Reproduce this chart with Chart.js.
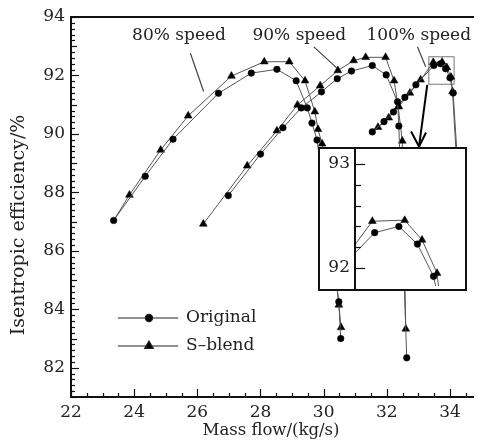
<!DOCTYPE html>
<html>
<head>
<meta charset="utf-8">
<script src="https://cdn.jsdelivr.net/npm/chart.js@4.4.1/dist/chart.umd.min.js"></script>
<style>
body { margin: 0; background: #fff; }
#wrap { position: relative; width: 479px; height: 441px; }
#inset { position: absolute; left: 318px; top: 147px; background: #fff; }
</style>
</head>
<body>
<div id="wrap">
  <canvas id="main" width="479" height="441"></canvas>
  <canvas id="inset" width="149" height="144"></canvas>
</div>
<script>
// mass flow (kg/s) and isentropic efficiency (%)
const flow80Orig = [23.35, 24.35, 25.23, 26.67, 27.71, 28.52, 29.13, 29.48, 29.63, 29.79, 30.48, 30.54]
const eff80Orig  = [87.04, 88.55, 89.82, 91.39, 92.08, 92.21, 91.82, 90.89, 90.37, 89.79, 84.26, 83.00]
const flow80Blend = [23.35, 23.85, 24.84, 25.71, 27.08, 28.12, 28.91, 29.41, 29.72, 29.82, 29.95, 30.48, 30.55]
const eff80Blend  = [87.04, 87.91, 89.45, 90.62, 91.98, 92.47, 92.47, 91.82, 90.76, 90.16, 89.66, 84.15, 83.38]

const flow90Orig = [26.98, 28.00, 28.71, 29.29, 29.93, 30.43, 30.88, 31.54, 31.98, 32.34, 32.38, 32.63]
const eff90Orig  = [87.89, 89.31, 90.21, 90.89, 91.44, 91.89, 92.15, 92.34, 92.02, 91.10, 90.27, 82.34]
const flow90Blend = [26.19, 27.58, 28.52, 29.17, 29.89, 30.45, 30.95, 31.33, 31.96, 32.23, 32.36, 32.49, 32.60]
const eff90Blend  = [86.92, 88.91, 90.11, 90.99, 91.65, 92.17, 92.51, 92.62, 92.62, 91.82, 90.93, 89.76, 83.33]

const flow100Orig = [31.54, 31.91, 32.21, 32.57, 32.92, 33.49, 33.70, 33.86, 34.00, 34.10, 34.26, 34.35]
const eff100Orig  = [90.07, 90.42, 90.75, 91.25, 91.68, 92.34, 92.40, 92.23, 91.92, 91.40, 88.67, 85.97]
const flow100Blend = [31.72, 32.06, 32.38, 32.73, 33.07, 33.47, 33.75, 33.90, 34.03, 34.08, 34.23, 34.32]
const eff100Blend  = [90.23, 90.55, 90.94, 91.40, 91.85, 92.45, 92.46, 92.27, 91.95, 91.45, 88.67, 86.03]

const xTicks = [22, 24, 26, 28, 30, 32, 34]
const yTicks = [82, 84, 86, 88, 90, 92, 94]
const insetTicks = [92, 93]
const speedLabels = ['80% speed', '90% speed', '100% speed']
const seriesNames = ['Original', 'S\u2013blend']

const FONT = "'DejaVu Serif', serif"
const LINE = '#555'

function pts(xs, ys) {
    return xs.map((x, i) => ({ x: x, y: ys[i] }))
}

function series(xs, ys, style, first) {
    const r = style === 'circle' ? 3.3 : 4.5
    return {
        data: pts(xs, ys),
        showLine: true,
        borderColor: LINE,
        borderWidth: 1,
        pointStyle: style,
        pointRadius: xs.map((x, i) => (i === 0 && first === false) ? 0 : r),
        pointBackgroundColor: '#000',
        pointBorderColor: '#000',
        pointBorderWidth: 0.5
    }
}

// no extra room for the end labels, the frame is fixed
function noPad(s) {
    s.paddingTop = 0; s.paddingBottom = 0; s.paddingLeft = 0; s.paddingRight = 0
}

const mainSets = [
    series(flow80Orig, eff80Orig, 'circle'),
    series(flow80Blend, eff80Blend, 'triangle', false),
    series(flow90Orig, eff90Orig, 'circle'),
    series(flow90Blend, eff90Blend, 'triangle'),
    series(flow100Orig, eff100Orig, 'circle'),
    series(flow100Blend, eff100Blend, 'triangle')
]

const mainFrame = {
    id: 'mainFrame',
    beforeDatasetsDraw(chart) {
        const ctx = chart.ctx
        const xs = chart.scales.x, ys = chart.scales.y
        const px = v => xs.getPixelForValue(v), py = v => ys.getPixelForValue(v)
        ctx.save()
        ctx.strokeStyle = '#444'
        ctx.lineWidth = 1.2
        // leader lines for speed labels
        const leaders = [[25.78, 92.76, 26.20, 91.45], [29.69, 92.98, 30.42, 92.25], [32.97, 92.98, 33.23, 92.30]]
        leaders.forEach(l => {
            ctx.beginPath(); ctx.moveTo(px(l[0]), py(l[1])); ctx.lineTo(px(l[2]), py(l[3])); ctx.stroke()
        })
        // zoom window
        ctx.strokeStyle = '#777'
        ctx.lineWidth = 1
        ctx.strokeRect(px(33.33), py(92.64), px(34.13) - px(33.33), py(91.70) - py(92.64))
        ctx.restore()
    },
    afterDraw(chart) {
        const ctx = chart.ctx
        const a = chart.chartArea
        const xs = chart.scales.x, ys = chart.scales.y
        const px = v => xs.getPixelForValue(v), py = v => ys.getPixelForValue(v)
        ctx.save()
        ctx.strokeStyle = '#111'
        ctx.lineWidth = 2
        ctx.beginPath()
        ctx.moveTo(a.right, a.top); ctx.lineTo(a.left, a.top); ctx.lineTo(a.left, a.bottom); ctx.lineTo(a.right, a.bottom)
        ctx.stroke()
        ctx.lineWidth = 1.2
        for (let i = 0; i <= 65; i++) {
            const v = 81 + i * 0.2
            const len = i % 10 === 5 ? 8 : (i % 5 === 0 ? 6 : 4)
            ctx.beginPath(); ctx.moveTo(a.left, Math.round(py(v)) + 0.5); ctx.lineTo(a.left + len, Math.round(py(v)) + 0.5); ctx.stroke()
        }
        for (let i = 0; i <= 25; i++) {
            const v = 22 + i * 0.5
            const len = i % 4 === 0 ? 8 : 4
            ctx.beginPath(); ctx.moveTo(Math.round(px(v)) + 0.5, a.bottom); ctx.lineTo(Math.round(px(v)) + 0.5, a.bottom - len); ctx.stroke()
        }
        // arrow to inset
        ctx.lineWidth = 2
        ctx.strokeStyle = '#000'
        const ax = px(33.02), ay = py(89.57)
        ctx.beginPath(); ctx.moveTo(px(33.28), py(91.68)); ctx.lineTo(ax, ay); ctx.stroke()
        ctx.beginPath(); ctx.moveTo(ax - 8, ay - 15); ctx.lineTo(ax, ay); ctx.lineTo(ax + 7, ay - 14); ctx.stroke()

        ctx.fillStyle = '#222'
        ctx.font = '17px ' + FONT
        ctx.textBaseline = 'middle'
        ctx.textAlign = 'center'
        const labelPos = [[25.42, 93.38], [29.23, 93.38], [33.01, 93.38]]
        speedLabels.forEach((t, i) => ctx.fillText(t, px(labelPos[i][0]), py(labelPos[i][1])))

        // axis titles
        ctx.font = '16.5px ' + FONT
        ctx.fillText('Mass flow/(kg/s)', 271, 431)
        ctx.save()
        ctx.font = '19px ' + FONT
        ctx.translate(19, 225)
        ctx.rotate(-Math.PI / 2)
        ctx.fillText('Isentropic efficiency/%', 0, 0)
        ctx.restore()

        // legend
        ctx.font = '17px ' + FONT
        const rows = [[318, 'circle', 3.6], [346, 'triangle', 5]]
        rows.forEach((r, i) => {
            ctx.strokeStyle = '#222'
            ctx.lineWidth = 1.2
            ctx.beginPath(); ctx.moveTo(118, r[0]); ctx.lineTo(178, r[0]); ctx.stroke()
            ctx.fillStyle = '#000'
            Chart.helpers.drawPoint(ctx, { pointStyle: r[1], radius: r[2], rotation: 0, borderWidth: 0.5 }, 149, r[0])
            ctx.fillStyle = '#222'
            ctx.textAlign = 'left'
            ctx.fillText(seriesNames[i], 186, r[0])
        })
        ctx.restore()
    }
}

new Chart(document.getElementById('main'), {
    type: 'scatter',
    data: { datasets: mainSets },
    options: {
        responsive: false,
        animation: false,
        devicePixelRatio: 1,
        layout: { padding: { top: 17, right: 0, left: 0, bottom: 0 } },
        plugins: { legend: { display: false }, tooltip: { enabled: false } },
        scales: {
            x: {
                type: 'linear', min: 22, max: 34.76,
                grid: { display: false, drawTicks: false },
                border: { display: false },
                afterBuildTicks: s => { s.ticks = xTicks.map(v => ({ value: v })) },
                afterFit: s => { s.height = 44; noPad(s) },
                ticks: { padding: 5, color: '#222', font: { family: FONT, size: 17 }, maxRotation: 0, autoSkip: false }
            },
            y: {
                type: 'linear', min: 81, max: 94,
                grid: { display: false, drawTicks: false },
                border: { display: false },
                afterBuildTicks: s => { s.ticks = yTicks.map(v => ({ value: v })) },
                afterFit: s => { s.width = 71; noPad(s) },
                ticks: { padding: 6, color: '#222', font: { family: FONT, size: 17 } }
            }
        }
    },
    plugins: [mainFrame]
})

const insetFrame = {
    id: 'insetFrame',
    afterDraw(chart) {
        const ctx = chart.ctx
        const a = chart.chartArea
        const ys = chart.scales.y
        ctx.save()
        ctx.strokeStyle = '#111'
        ctx.lineWidth = 2
        ctx.strokeRect(1, 1, chart.width - 2, chart.height - 2)
        ctx.beginPath(); ctx.moveTo(a.left, 0); ctx.lineTo(a.left, chart.height); ctx.stroke()
        ctx.lineWidth = 1.2
        for (let i = 0; i <= 5; i++) {
            const v = 92 + i * 0.2
            const y = Math.round(ys.getPixelForValue(v)) + 0.5
            const len = (i === 0 || i === 5) ? 10 : 6
            ctx.beginPath(); ctx.moveTo(a.left, y); ctx.lineTo(a.left + len, y); ctx.stroke()
        }
        ctx.restore()
    }
}

new Chart(document.getElementById('inset'), {
    type: 'scatter',
    data: {
        datasets: [
            series(flow100Orig, eff100Orig, 'circle'),
            series(flow100Blend, eff100Blend, 'triangle')
        ]
    },
    options: {
        responsive: false,
        animation: false,
        devicePixelRatio: 1,
        layout: { padding: 0 },
        plugins: { legend: { display: false }, tooltip: { enabled: false } },
        scales: {
            x: { type: 'linear', min: 33.32, max: 34.246, display: false },
            y: {
                type: 'linear', min: 91.827, max: 93.116,
                grid: { display: false, drawTicks: false },
                border: { display: false },
                afterBuildTicks: s => { s.ticks = insetTicks.map(v => ({ value: v })) },
                afterFit: s => { s.width = 37; noPad(s) },
                ticks: { padding: 5, color: '#222', font: { family: FONT, size: 17 } }
            }
        }
    },
    plugins: [insetFrame]
})
</script>
</body>
</html>
